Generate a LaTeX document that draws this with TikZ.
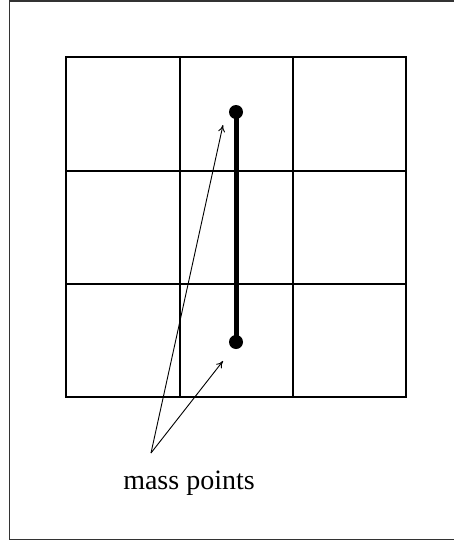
\documentclass[tikz,border=0pt]{standalone}
\usepackage{fontspec}
\setmainfont{Liberation Serif}
\usetikzlibrary{arrows.meta}
\begin{document}
\begin{tikzpicture}[x=1pt,y=-1pt,
  gridline/.style={line width=1.2pt},
  framebox/.style={line width=1.5pt, draw=black!80},
  massdot/.style={circle, fill=black, inner sep=0pt, minimum size=14pt},
  rod/.style={line width=5pt},
  pointer/.style={line width=0.9pt, -{To[length=7pt,width=7pt]}},
  caption/.style={font=\fontsize{28}{30}\selectfont, inner sep=0pt}]
\useasboundingbox (0,0) rectangle (454,541);
\draw[framebox] (9.5,1) rectangle (480,539.5);
\draw[gridline] (66,57) rectangle (406,397);
\draw[gridline] (180,57) -- (180,397);
\draw[gridline] (293,57) -- (293,397);
\draw[gridline] (66,171) -- (406,171);
\draw[gridline] (66,284) -- (406,284);
\node[massdot] (top) at (236,112) {};
\node[massdot] (bot) at (236,342) {};
\draw[rod] (top.center) -- (bot.center);
\node[caption, anchor=base] (lbl) at (189,489) {mass points};
\coordinate (tail) at (151,453);
\coordinate (headA) at (223,125);
\coordinate (headB) at (223,361);
\draw[pointer] (tail) -- (headA);
\draw[pointer] (tail) -- (headB);
\end{tikzpicture}
\end{document}
